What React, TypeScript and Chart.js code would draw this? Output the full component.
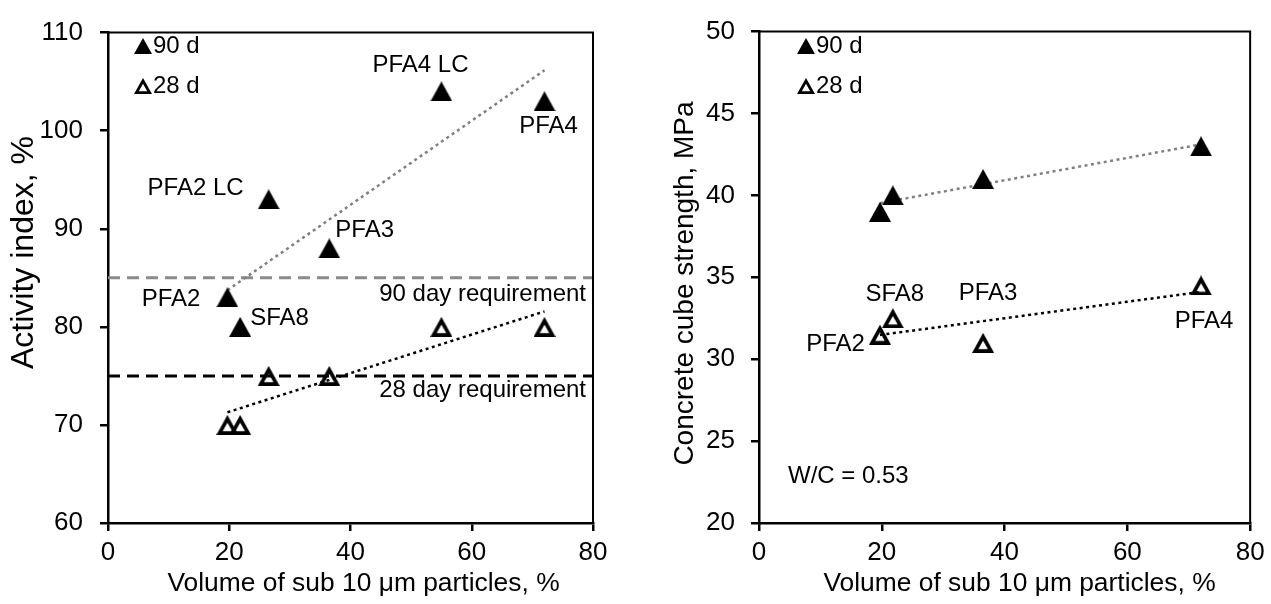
import React, { useEffect, useRef } from 'react';
import { Chart, registerables } from 'chart.js';

Chart.register(...registerables);

const FAMILY = "'Liberation Sans', Arial, Helvetica, sans-serif";

// ---------- Left panel: activity index ----------
const leftX = [19.7, 21.8, 26.5, 36.5, 55, 72];
const leftAI90 = [83, 80, 93, 88, 104, 103];
const leftAI28 = [70, 70, 75, 75, 80, 80];
const leftNames = ['PFA2', 'SFA8', 'PFA2 LC', 'PFA3', 'PFA4 LC', 'PFA4'];
const leftReqValues = [85, 75];
const leftReqLabels = ['90 day requirement', '28 day requirement'];
const leftXTicks = [0, 20, 40, 60, 80];
const leftYTicks = [60, 70, 80, 90, 100, 110];

// ---------- Right panel: concrete cube strength ----------
const rightX = [19.7, 21.8, 36.5, 72];
const rightCS90 = [39, 40, 41, 43];
const rightCS28 = [31.5, 32.5, 31, 34.5];
const rightNames = ['PFA2', 'SFA8', 'PFA3', 'PFA4'];
const rightXTicks = [0, 20, 40, 60, 80];
const rightYTicks = [20, 25, 30, 35, 40, 45, 50];
const rightNote = 'W/C = 0.53';

const legendLabels = ['90 d', '28 d'];
const xTitleText = 'Volume of sub 10 μm particles, %';
const leftYTitleText = 'Activity index, %';
const rightYTitleText = 'Concrete cube strength, MPa';

// ---------- layout / style (kept apart from data) ----------
type LabelPos = { dx: number; dy: number; align: CanvasTextAlign };
const leftLabelPos: LabelPos[] = [
  { dx: -27, dy: 2, align: 'right' },
  { dx: 10, dy: -8, align: 'left' },
  { dx: -25, dy: -11, align: 'right' },
  { dx: 6, dy: -18, align: 'left' },
  { dx: -21, dy: -26, align: 'center' },
  { dx: 4, dy: 25, align: 'center' },
];
const rightLabelPos: LabelPos[] = [
  { dx: -15, dy: 10, align: 'right' },
  { dx: 2, dy: -24, align: 'center' },
  { dx: 5, dy: -49, align: 'center' },
  { dx: 3, dy: 36, align: 'center' },
];

function fitLine(xs: number[], ys: number[]) {
  const n = xs.length;
  const mx = xs.reduce((a, b) => a + b, 0) / n;
  const my = ys.reduce((a, b) => a + b, 0) / n;
  let sxy = 0;
  let sxx = 0;
  for (let i = 0; i < n; i++) {
    sxy += (xs[i] - mx) * (ys[i] - my);
    sxx += (xs[i] - mx) * (xs[i] - mx);
  }
  const b = sxy / sxx;
  const a = my - b * mx;
  const x0 = Math.min(...xs);
  const x1 = Math.max(...xs);
  return [
    { x: x0, y: a + b * x0 },
    { x: x1, y: a + b * x1 },
  ];
}

function makeTriangle(w: number, h: number, filled: boolean, lw: number) {
  const c = document.createElement('canvas');
  c.width = Math.ceil(w);
  c.height = Math.ceil(h);
  const ctx = c.getContext('2d') as CanvasRenderingContext2D;
  ctx.fillStyle = '#000';
  ctx.beginPath();
  ctx.moveTo(w / 2, 0);
  ctx.lineTo(w, h);
  ctx.lineTo(0, h);
  ctx.closePath();
  ctx.fill();
  if (!filled) {
    const L = Math.hypot(w / 2, h);
    const r = (w * h) / (w + 2 * L);
    const cx = w / 2;
    const cy = h - r;
    const k = (r - lw) / r;
    ctx.globalCompositeOperation = 'destination-out';
    ctx.beginPath();
    ctx.moveTo(cx + (w / 2 - cx) * k, cy + (0 - cy) * k);
    ctx.lineTo(cx + (w - cx) * k, cy + (h - cy) * k);
    ctx.lineTo(cx + (0 - cx) * k, cy + (h - cy) * k);
    ctx.closePath();
    ctx.fill();
  }
  return c;
}

interface PanelSpec {
  width: number;
  height: number;
  plot: { left: number; top: number; right: number; bottom: number };
  xMin: number;
  xMax: number;
  yMin: number;
  yMax: number;
  xTicks: number[];
  yTicks: number[];
  xs: number[];
  y90: number[];
  y28: number[];
  names: string[];
  labelSeries: '90' | '28';
  labelPos: LabelPos[];
  hLines: { value: number; color: string; text: string; dy: number }[];
  trend90Color: string;
  trend28Color: string;
  legend: { x: number; y: number; gap: number; textX: number };
  yTitle: { text: string; size: number; x: number; y: number };
  xTitle: { text: string; size: number; x: number; y: number };
  yTickPadding: number;
  note?: { text: string; x: number; y: number };
}

function buildChart(canvas: HTMLCanvasElement, s: PanelSpec) {
  const bigFilled = makeTriangle(22, 20, true, 0);
  const bigOpen = makeTriangle(22, 20, false, 3.7);
  const smallFilled = makeTriangle(18, 16, true, 0);
  const smallOpen = makeTriangle(18, 16, false, 2.8);

  const pts90 = s.xs.map((x, i) => ({ x, y: s.y90[i] }));
  const pts28 = s.xs.map((x, i) => ({ x, y: s.y28[i] }));

  const datasets: any[] = [
    { label: legendLabels[0], data: pts90, pointStyle: bigFilled, pointRadius: 10, showLine: false },
    { label: legendLabels[1], data: pts28, pointStyle: bigOpen, pointRadius: 10, showLine: false },
    {
      label: 'trend 90', data: fitLine(s.xs, s.y90), showLine: true, pointRadius: 0,
      borderColor: s.trend90Color, borderWidth: 2.5, borderDash: [3, 3.5],
    },
    {
      label: 'trend 28', data: fitLine(s.xs, s.y28), showLine: true, pointRadius: 0,
      borderColor: s.trend28Color, borderWidth: 2.5, borderDash: [3, 3.5],
    },
  ];
  s.hLines.forEach((h) => {
    datasets.push({
      label: h.text,
      data: [{ x: s.xMin, y: h.value }, { x: s.xMax, y: h.value }],
      showLine: true, pointRadius: 0, borderColor: h.color, borderWidth: 3, borderDash: [12, 7],
    });
  });

  const tickFont = { family: FAMILY, size: 26 };
  const gridOpts = {
    display: true, drawOnChartArea: false, drawTicks: true, tickLength: 8,
    color: '#000', lineWidth: 2.5,
  };

  const overlay = {
    id: 'overlay',
    afterDatasetsDraw(chart: any) {
      const ctx = chart.ctx as CanvasRenderingContext2D;
      const xs = chart.scales.x;
      const ys = chart.scales.y;
      const area = chart.chartArea;
      ctx.save();
      ctx.fillStyle = '#000';
      ctx.textBaseline = 'middle';
      ctx.font = `24px ${FAMILY}`;
      const yVals = s.labelSeries === '90' ? s.y90 : s.y28;
      s.names.forEach((name, i) => {
        const p = s.labelPos[i];
        const px = xs.getPixelForValue(s.xs[i]);
        const py = ys.getPixelForValue(yVals[i]);
        ctx.textAlign = p.align;
        ctx.fillText(name, px + p.dx, py + p.dy);
      });
      s.hLines.forEach((h) => {
        if (!h.text) return;
        ctx.textAlign = 'right';
        ctx.fillText(h.text, area.right - 7, ys.getPixelForValue(h.value) + h.dy);
      });
      const imgs = [smallFilled, smallOpen];
      legendLabels.forEach((lab, i) => {
        const cy = s.legend.y + i * s.legend.gap;
        const img = imgs[i];
        ctx.drawImage(img, s.legend.x - img.width / 2, cy - img.height / 2);
        ctx.textAlign = 'left';
        ctx.fillText(lab, s.legend.textX, cy);
      });
      if (s.note) {
        ctx.textAlign = 'left';
        ctx.fillText(s.note.text, s.note.x, s.note.y);
      }
      ctx.textAlign = 'center';
      ctx.textBaseline = 'alphabetic';
      ctx.font = `${s.xTitle.size}px ${FAMILY}`;
      ctx.fillText(s.xTitle.text, s.xTitle.x, s.xTitle.y);
      ctx.font = `${s.yTitle.size}px ${FAMILY}`;
      ctx.translate(s.yTitle.x, s.yTitle.y);
      ctx.rotate(-Math.PI / 2);
      ctx.fillText(s.yTitle.text, 0, 0);
      ctx.restore();
    },
    afterDraw(chart: any) {
      const ctx = chart.ctx as CanvasRenderingContext2D;
      const a = chart.chartArea;
      ctx.save();
      ctx.strokeStyle = '#000';
      ctx.lineWidth = 2;
      ctx.beginPath();
      ctx.moveTo(a.left, a.top);
      ctx.lineTo(a.right, a.top);
      ctx.lineTo(a.right, a.bottom);
      ctx.stroke();
      ctx.restore();
    },
  };

  return new Chart(canvas, {
    type: 'scatter',
    data: { datasets },
    plugins: [overlay],
    options: {
      animation: false,
      responsive: false,
      events: [],
      layout: {
        padding: {
          left: 0,
          top: s.plot.top,
          right: s.width - s.plot.right,
          bottom: 0,
        },
      },
      plugins: { legend: { display: false }, tooltip: { enabled: false } },
      scales: {
        x: {
          type: 'linear', min: s.xMin, max: s.xMax,
          afterBuildTicks: (sc: any) => { sc.ticks = s.xTicks.map((v) => ({ value: v })); },
          afterFit: (sc: any) => { sc.height = s.height - s.plot.bottom; },
          ticks: { font: tickFont, color: '#000', padding: 6.4, maxRotation: 0 },
          grid: gridOpts,
          border: { display: true, color: '#000', width: 2.5 },
        },
        y: {
          type: 'linear', min: s.yMin, max: s.yMax,
          afterBuildTicks: (sc: any) => { sc.ticks = s.yTicks.map((v) => ({ value: v })); },
          afterFit: (sc: any) => { sc.width = s.plot.left; },
          ticks: { font: tickFont, color: '#000', padding: s.yTickPadding },
          grid: gridOpts,
          border: { display: true, color: '#000', width: 2.5 },
        },
      },
    } as any,
  });
}

const LEFT_W = 635;
const RIGHT_OFF = 635;
const RIGHT_W = 636;
const H = 604;

const leftSpec: PanelSpec = {
  width: LEFT_W, height: H,
  plot: { left: 108, top: 21, right: 593, bottom: 523 },
  xMin: 0, xMax: 80, yMin: 60, yMax: 110,
  xTicks: leftXTicks, yTicks: leftYTicks,
  xs: leftX, y90: leftAI90, y28: leftAI28, names: leftNames,
  labelSeries: '90', labelPos: leftLabelPos,
  hLines: [
    { value: leftReqValues[0], color: '#8a8a8a', text: leftReqLabels[0], dy: 16.5 },
    { value: leftReqValues[1], color: '#000', text: leftReqLabels[1], dy: 14.5 },
  ],
  trend90Color: '#808080', trend28Color: '#000',
  legend: { x: 143, y: 46, gap: 40, textX: 153 },
  yTitle: { text: leftYTitleText, size: 32, x: 32.5, y: 252.5 },
  xTitle: { text: xTitleText, size: 26.4, x: 363.5, y: 590.5 },
  yTickPadding: 17,
};

const rightSpec: PanelSpec = {
  width: RIGHT_W, height: H,
  plot: { left: 759 - RIGHT_OFF, top: 21, right: 1254 - RIGHT_OFF, bottom: 523 },
  xMin: 0, xMax: 80, yMin: 20, yMax: 50,
  xTicks: rightXTicks, yTicks: rightYTicks,
  xs: rightX, y90: rightCS90, y28: rightCS28, names: rightNames,
  labelSeries: '28', labelPos: rightLabelPos,
  hLines: [],
  trend90Color: '#808080', trend28Color: '#000',
  legend: { x: 806 - RIGHT_OFF, y: 46, gap: 40, textX: 816 - RIGHT_OFF },
  yTitle: { text: rightYTitleText, size: 28, x: 692.5 - RIGHT_OFF, y: 283.5 },
  xTitle: { text: xTitleText, size: 26.4, x: 1019.5 - RIGHT_OFF, y: 590.5 },
  yTickPadding: 16,
  note: { text: rightNote, x: 788 - RIGHT_OFF, y: 476 },
};

function Panel({ spec, left }: { spec: PanelSpec; left: number }) {
  const ref = useRef<HTMLCanvasElement | null>(null);
  useEffect(() => {
    if (!ref.current) return;
    const chart = buildChart(ref.current, spec);
    return () => chart.destroy();
  }, [spec]);
  return (
    <canvas
      ref={ref}
      width={spec.width}
      height={spec.height}
      style={{ position: 'absolute', left, top: 0, width: spec.width, height: spec.height }}
    />
  );
}

export default function App() {
  return (
    <div style={{ position: 'fixed', left: 0, top: 0, width: 1271, height: 604, background: '#fff', overflow: 'hidden' }}>
      <Panel spec={leftSpec} left={0} />
      <Panel spec={rightSpec} left={RIGHT_OFF} />
    </div>
  );
}
